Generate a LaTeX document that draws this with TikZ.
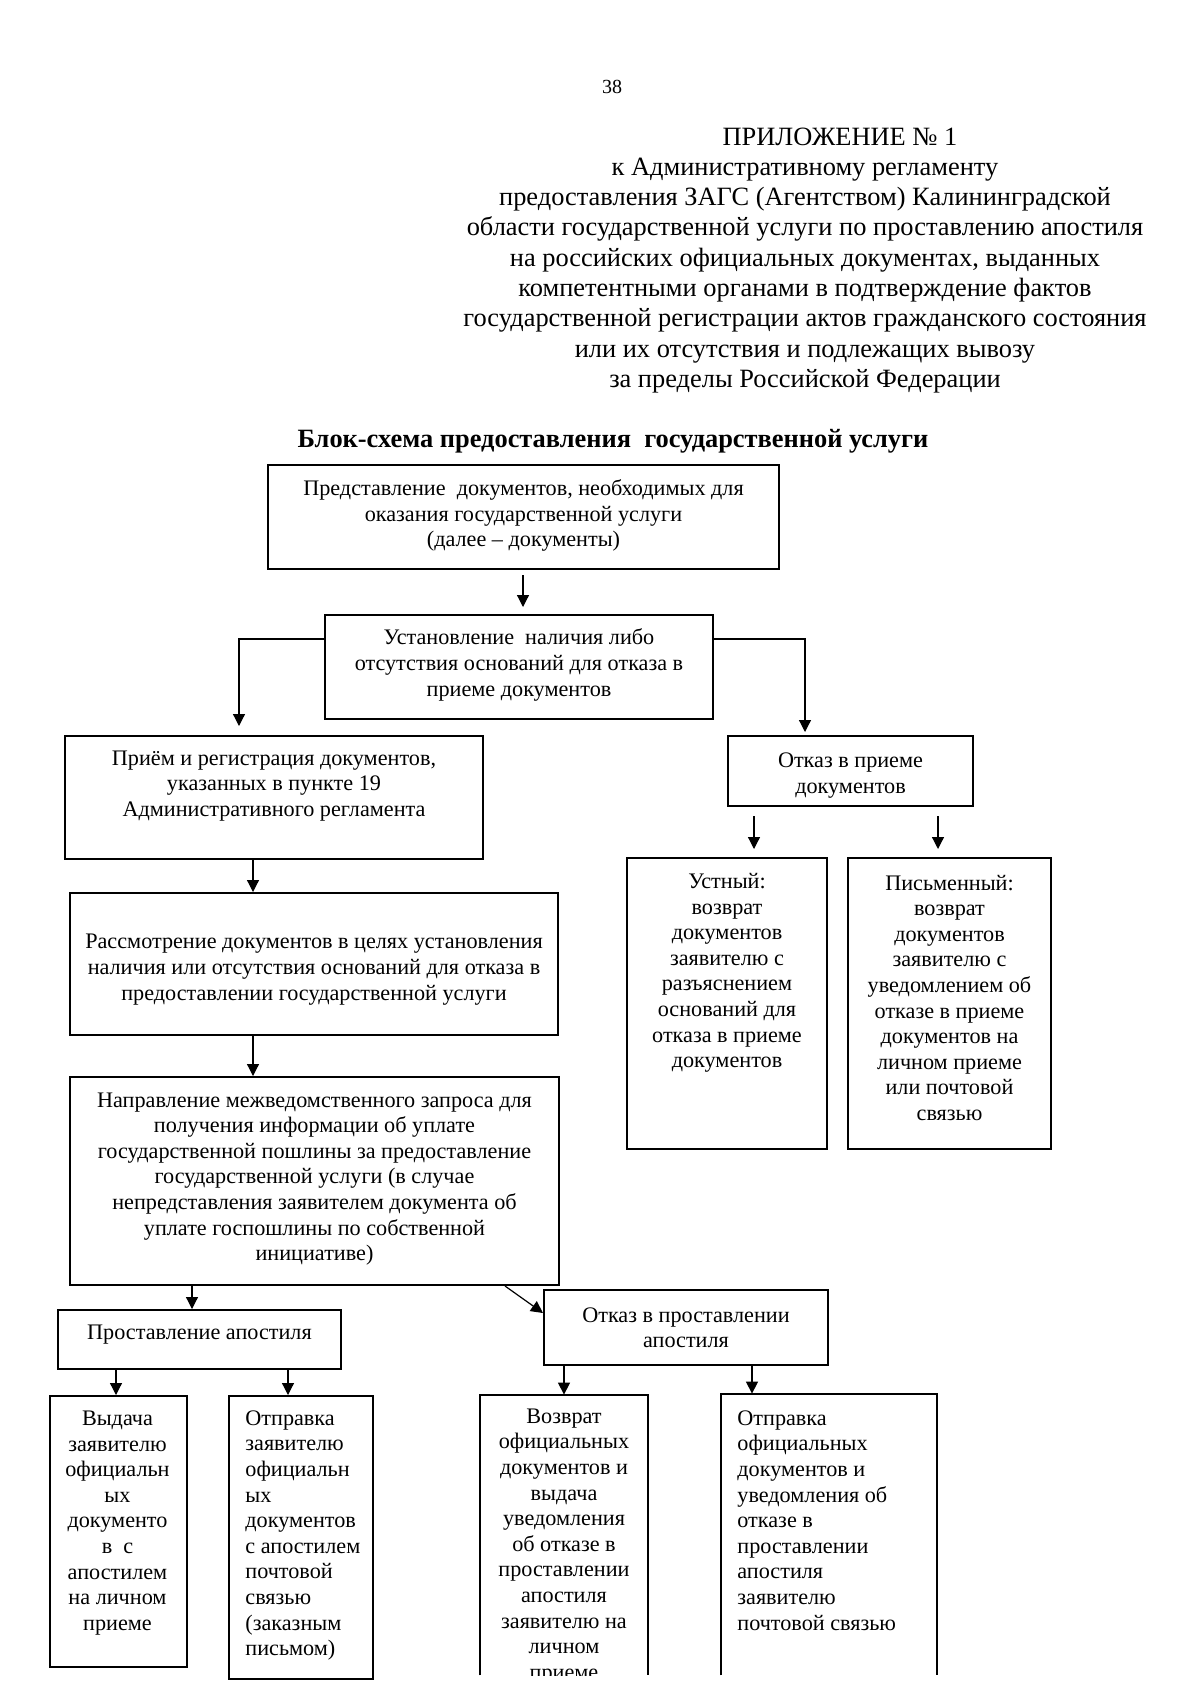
\documentclass[tikz,border=0pt]{standalone}
\usepackage{fontspec}
\setmainfont{Liberation Serif}
\usetikzlibrary{arrows.meta,fit}
\begin{document}
\begin{tikzpicture}[x=0.5pt,y=-0.5pt,
  box/.style={draw, line width=1pt, inner sep=0pt},
  openbox/.style={inner sep=0pt},
  txt/.style={inner sep=0pt, align=center, font=\fontsize{11.1}{12.8}\selectfont},
  ltxt/.style={txt, align=left},
  arr/.style={line width=0.6pt, -{Triangle[length=6pt,width=6pt]}},
  hdr/.style={inner sep=0pt, font=\fontsize{13.2}{15.15}\selectfont, align=center}]
\useasboundingbox[fill=white] (0,0) rectangle (1200,1697);

% header
\node[hdr, font=\fontsize{10}{11}\selectfont] (pnum) at (612,87) {38};
\node[hdr] (happ) at (840,137) {ПРИЛОЖЕНИЕ № 1};
\node[hdr] (hsub) at (805,275.5) {к Административному регламенту\\
предоставления ЗАГС (Агентством) Калининградской\\
области государственной услуги по проставлению апостиля\\
на российских официальных документах, выданных\\
компетентными органами в подтверждение фактов\\
государственной регистрации актов гражданского состояния\\
или их отсутствия и подлежащих вывозу\\
за пределы Российской Федерации};
\node[hdr, font=\fontsize{13.2}{15}\selectfont\bfseries] (htitle) at (613,441) {Блок-схема предоставления~ государственной услуги};

% boxes
\node[box, fit={(268,465) (779,569)}] (b1) {};
\node[txt] (t1) at (523.5,515.6) {Представление~ документов, необходимых для\\ оказания государственной услуги\\ (далее – документы)};
\node[box, fit={(325,615) (713,719)}] (b2) {};
\node[txt] (t2) at (519,665) {Установление~ наличия либо\\ отсутствия оснований для отказа в\\ приеме документов};
\node[box, fit={(65,736) (483,859)}] (b3) {};
\node[txt] (t3) at (274,786) {Приём и регистрация документов,\\ указанных в пункте 19\\ Административного регламента};
\node[box, fit={(728,736) (973,806)}] (b4) {};
\node[txt] (t4) at (850.5,775.3) {Отказ в приеме\\ документов};
\node[box, fit={(627,858) (827,1149)}] (b5) {};
\node[txt] (t5) at (727,972.8) {Устный:\\ возврат\\ документов\\ заявителю с\\ разъяснением\\ оснований для\\ отказа в приеме\\ документов};
\node[box, fit={(848,858) (1051,1149)}] (b6) {};
\node[txt] (t6) at (949.5,997.7) {Письменный:\\ возврат\\ документов\\ заявителю с\\ уведомлением об\\ отказе в приеме\\ документов на\\ личном приеме\\ или почтовой\\ связью};
\node[box, fit={(70,893) (558,1035)}] (b7) {};
\node[txt] (t7) at (314,969.6) {Рассмотрение документов в целях установления\\ наличия или отсутствия оснований для отказа в\\ предоставлении государственной услуги};
\node[box, fit={(70,1077) (559,1285)}] (b8) {};
\node[txt] (t8) at (314.5,1179) {Направление межведомственного запроса для\\ получения информации об уплате\\ государственной пошлины за предоставление\\ государственной услуги (в случае\\ непредставления заявителем документа об\\ уплате госпошлины по собственной\\ инициативе)};
\node[box, fit={(58,1310) (341,1369)}] (b9) {};
\node[txt] (t9) at (199.5,1334.8) {Проставление апостиля};
\node[box, fit={(544,1290) (828,1365)}] (b10) {};
\node[txt] (t10) at (686,1327.7) {Отказ в проставлении\\ апостиля};
\node[box, fit={(50,1396) (187,1667)}] (b11) {};
\node[txt] (t11) at (117.5,1523) {Выдача\\ заявителю\\ официальн\\ ых\\ документо\\ в~ с\\ апостилем\\ на личном\\ приеме};
\node[box, fit={(229,1396) (373,1679)}] (b12) {};
\node[ltxt, anchor=west] (t12) at (245,1535.5) {Отправка\\ заявителю\\ официальн\\ ых\\ документов\\ с апостилем\\ почтовой\\ связью\\ (заказным\\ письмом)};
\node[openbox, fit={(480,1395) (648,1675)}] (b13) {};
\node[openbox, fit={(721,1394) (937,1675)}] (b14) {};
\draw[line width=1pt] (b13.south west) |- (b13.north east) -- (b13.south east);
\draw[line width=1pt] (b14.south west) |- (b14.north east) -- (b14.south east);
\begin{scope}
\clip (0,0) rectangle (1200,1675);
\node[txt] (t13) at (564,1546.3) {Возврат\\ официальных\\ документов и\\ выдача\\ уведомления\\ об отказе в\\ проставлении\\ апостиля\\ заявителю на\\ личном\\ приеме};
\end{scope}
\node[ltxt, anchor=west] (t14) at (737,1520.4) {Отправка\\ официальных\\ документов и\\ уведомления об\\ отказе в\\ проставлении\\ апостиля\\ заявителю\\ почтовой связью};

% connectors
\draw[arr, shorten <=2.5pt, shorten >=3.5pt] ([xshift=-0.25pt]b1.south) -- ([xshift=-0.25pt]b1.south |- b2.north);
\draw[arr, shorten >=4.5pt] ([yshift=-12.5pt]b2.north west) -| ([xshift=-17.5pt]b3.north);
\draw[arr, shorten >=1.5pt] ([yshift=-12.5pt]b2.north east) -| ([xshift=-22.75pt]b4.north);
\draw[arr, shorten <=4.5pt, shorten >=4pt] ([xshift=-48.25pt]b4.south) -- ([xshift=-48.25pt]b4.south |- b5.north);
\draw[arr, shorten <=4.5pt, shorten >=4pt] ([xshift=43.75pt]b4.south) -- ([xshift=43.75pt]b4.south |- b6.north);
\draw[arr] ([xshift=-10.5pt]b3.south) -- ([xshift=-10.5pt]b3.south |- b7.north);
\draw[arr] ([xshift=-30.5pt]b7.south) -- ([xshift=-30.5pt]b7.south |- b8.north);
\draw[arr] ([xshift=-3.75pt]b9.north |- b8.south) -- ([xshift=-3.75pt]b9.north);
\draw[arr] ([xshift=-27.5pt]b8.south east) -- ([yshift=-12pt]b10.north west);
\draw[arr] ([xshift=-41.75pt]b9.south) -- ([xshift=-41.75pt]b9.south |- b11.north);
\draw[arr] ([xshift=44.25pt]b9.south) -- ([xshift=44.25pt]b9.south |- b12.north);
\draw[arr] ([xshift=-61pt]b10.south) -- ([xshift=-61pt]b10.south |- b13.north);
\draw[arr] ([xshift=33pt]b10.south) -- ([xshift=33pt]b10.south |- b14.north);
\end{tikzpicture}
\end{document}
